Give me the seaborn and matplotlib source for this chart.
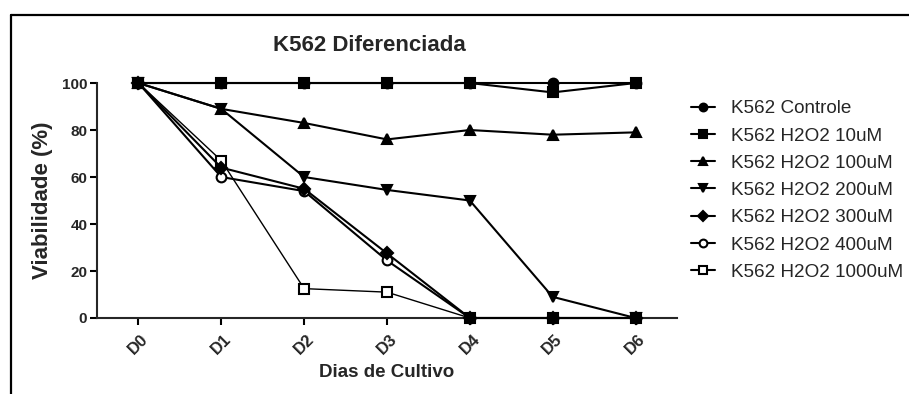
import matplotlib
matplotlib.use("Agg")
import matplotlib.pyplot as plt
import matplotlib.lines as mlines
import seaborn as sns
import pandas as pd

# Days of culture
dias = ["D0", "D1", "D2", "D3", "D4", "D5", "D6"]

# Viability (%) per treatment
controle = [100, 100, 100, 100, 100, 100, 100]
h2o2_10 = [100, 100, 100, 100, 100, 96, 100]
h2o2_100 = [100, 89, 83, 76, 80, 78, 79]
h2o2_200 = [100, 89, 60, 54.5, 50, 9, 0]
h2o2_300 = [100, 64, 55, 27.5, 0, 0, 0]
h2o2_400 = [100, 60, 54, 24.5, 0, 0, 0]
h2o2_1000 = [100, 67, 12.5, 11, 0, 0, 0]

series_names = ["K562 Controle", "K562 H2O2 10uM", "K562 H2O2 100uM",
                "K562 H2O2 200uM", "K562 H2O2 300uM", "K562 H2O2 400uM",
                "K562 H2O2 1000uM"]
series_values = [controle, h2o2_10, h2o2_100, h2o2_200, h2o2_300, h2o2_400, h2o2_1000]

# marker, filled, marker size, line width
styles = [
    ("o", True, 7, 1.5),
    ("s", True, 7.5, 1.5),
    ("^", True, 7.5, 1.5),
    ("v", True, 7.5, 1.5),
    ("D", True, 6.5, 1.5),
    ("o", False, 7, 1.5),
    ("s", False, 7.5, 1.0),
]

rows = []
for name, vals in zip(series_names, series_values):
    for i, v in enumerate(vals):
        rows.append({"serie": name, "dia": i, "viab": v})
df = pd.DataFrame(rows)

sns.set_style("ticks")
plt.rcParams["font.family"] = ["Liberation Sans", "DejaVu Sans"]

fig = plt.figure(figsize=(9.09, 3.94), dpi=100)
ax = fig.add_axes([0.1067, 0.1929, 0.638, 0.5964])

handles = []
n = len(series_names)
for k, (name, (mk, filled, ms, lw)) in enumerate(zip(series_names, styles)):
    sub = df[df["serie"] == name]
    fc = "black" if filled else "white"
    # earlier series are drawn on top
    sns.lineplot(data=sub, x="dia", y="viab", ax=ax, color="black",
                 marker=mk, markersize=ms, markerfacecolor=fc,
                 markeredgecolor="black", markeredgewidth=1.5,
                 linewidth=lw, clip_on=False, legend=False, zorder=3 + (n - k) * 0.1)
    handles.append(mlines.Line2D([], [], color="black", marker=mk,
                                 markersize=ms * 0.8, markerfacecolor=fc,
                                 markeredgecolor="black", markeredgewidth=1.5,
                                 linewidth=1.5, label=name))

ax.set_xlim(-0.5, 6.5)
ax.set_ylim(0, 100)
ax.set_yticks([0, 20, 40, 60, 80, 100])
ax.set_xticks(range(len(dias)))
ax.set_xticklabels(dias, rotation=45, ha="center", va="top",
                   fontsize=12, fontweight="bold")
for lab in ax.get_yticklabels():
    lab.set_fontsize(11)
    lab.set_fontweight("bold")

for s in ["top", "right"]:
    ax.spines[s].set_visible(False)
for s in ["left", "bottom"]:
    ax.spines[s].set_linewidth(1.5)
ax.tick_params(axis="both", direction="out", length=5, width=1.5, color="black", pad=2)
ax.tick_params(axis="x", pad=5)

ax.set_xlabel("Dias de Cultivo", fontsize=13.5, fontweight="bold", labelpad=5)
ax.set_ylabel("Viabilidade (%)", fontsize=16, fontweight="bold", labelpad=6)
fig.text(0.406, 0.885, "K562 Diferenciada", ha="center", va="center",
         fontsize=16, fontweight="bold")

fig.legend(handles=handles, loc="upper left", bbox_to_anchor=(0.752, 0.765),
           frameon=False, fontsize=13.6, handlelength=1.25, handletextpad=0.85,
           labelspacing=0.53, borderaxespad=0)

# outer frame lines
fig.add_artist(mlines.Line2D([0.012, 0.012], [0.0, 0.962], color="black",
                             linewidth=1.6, transform=fig.transFigure))
fig.add_artist(mlines.Line2D([0.012, 1.0], [0.962, 0.962], color="black",
                             linewidth=1.6, transform=fig.transFigure))

fig.savefig("out.png", dpi=100)
